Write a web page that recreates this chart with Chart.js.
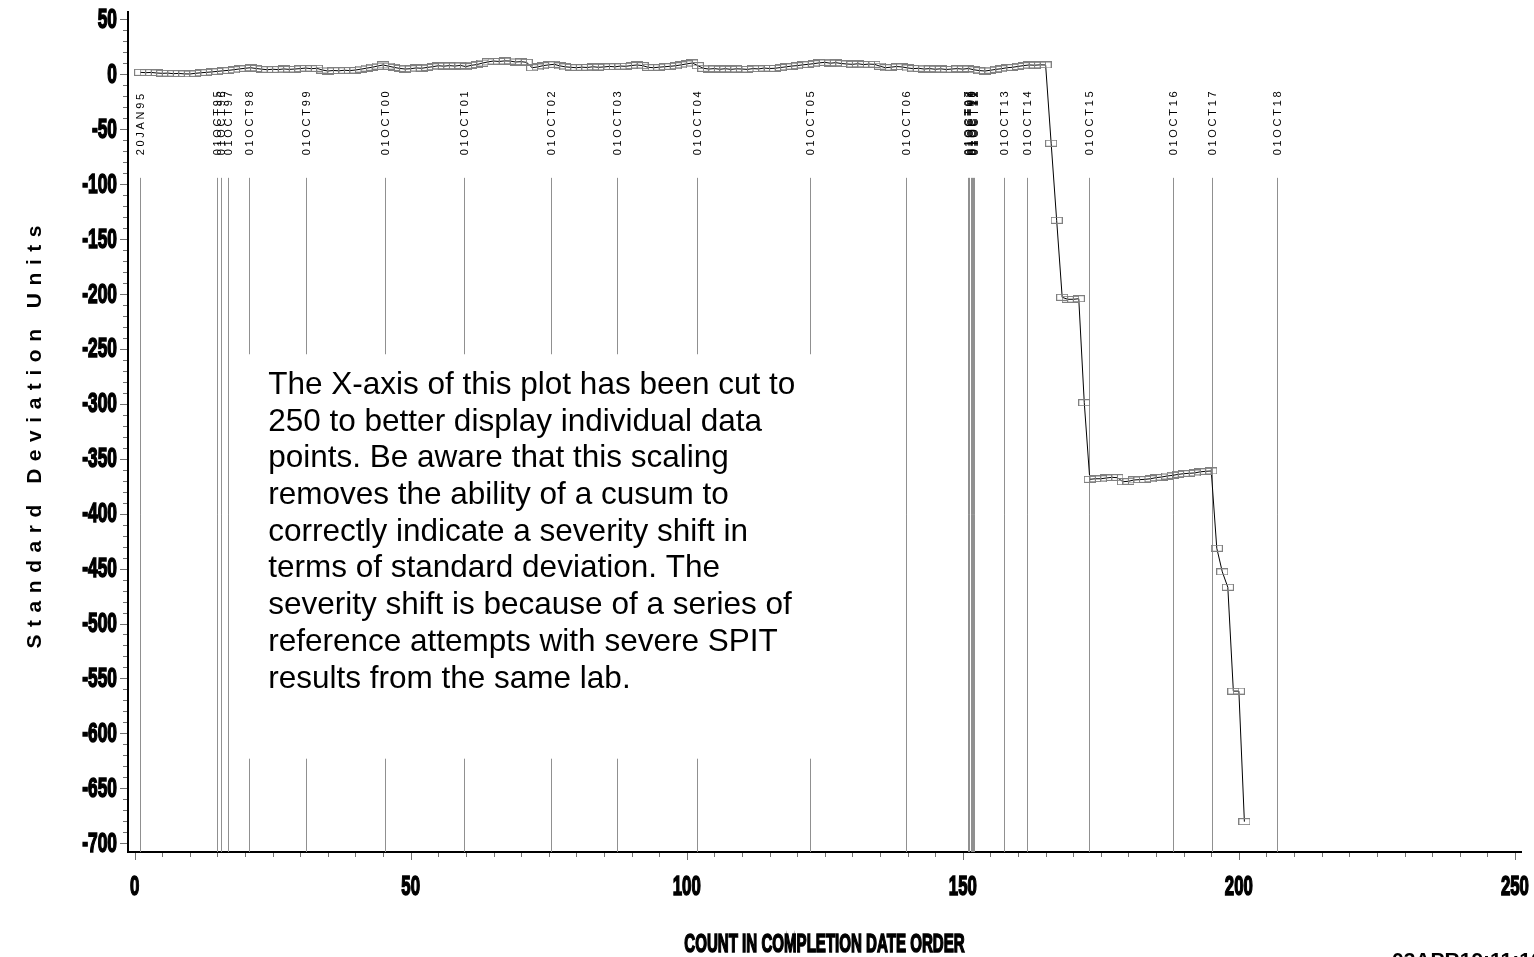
<!DOCTYPE html>
<html>
<head>
<meta charset="utf-8">
<script src="https://cdn.jsdelivr.net/npm/chart.js@4.4.1/dist/chart.umd.min.js"></script>
<style>
  html, body { margin: 0; padding: 0; background: #fff; }
  canvas { display: block; }
</style>
</head>
<body>
<canvas id="cusumChart" width="1534" height="957"></canvas>
<script>
// cusum in standard deviation units, one value per test (count 1, 2, 3 ...)
const cusum = [
    1.5, 1.2, 1.4, 0.9, 0.6, 0.8, 0.3, 0.5, 0.1, 0.0,
    0.6, 1.1, 1.5, 1.9, 2.4, 2.9, 3.3, 3.9, 4.6, 5.2,
    5.7, 5.0, 4.4, 3.9, 4.3, 4.0, 4.6, 4.2, 4.5, 4.9,
    5.4, 4.8, 5.2, 3.6, 2.7, 3.2, 2.9, 3.4, 3.1, 3.6,
    4.4, 5.3, 6.1, 7.2, 8.2, 7.1, 6.0, 5.1, 4.5, 4.8,
    5.5, 5.2, 6.0, 6.6, 7.5, 7.1, 7.6, 7.2, 7.8, 6.7,
    7.9, 8.6, 9.9, 11.0, 11.8, 11.4, 11.9, 11.8, 10.9, 11.2,
    10.6, 5.7, 6.4, 7.6, 8.3, 8.8, 7.4, 6.5, 6.1, 5.7,
    6.2, 5.9, 6.6, 6.1, 6.4, 6.9, 6.5, 7.2, 7.0, 7.7,
    8.2, 7.6, 6.1, 5.7, 6.2, 6.6, 7.0, 7.5, 8.3, 9.2,
    10.0, 7.6, 5.2, 4.5, 4.9, 4.3, 4.8, 4.2, 4.7, 4.5,
    4.2, 4.9, 4.6, 5.4, 5.0, 5.2, 5.9, 6.5, 7.2, 7.6,
    8.3, 8.8, 9.4, 10.1, 10.6, 9.8, 10.3, 9.5, 9.1, 8.8,
    9.3, 8.6, 9.0, 8.8, 7.1, 5.7, 6.2, 6.8, 6.4, 5.5,
    4.9, 5.2, 4.5, 4.9, 4.3, 4.7, 4.1, 4.5, 4.9, 4.4,
    5.0, 3.8, 3.1, 2.7, 3.4, 4.2, 4.8, 5.7, 6.1, 6.9,
    7.6, 8.2, 8.0, 8.3, 8.2, -63.0, -133.1, -203.2, -205.0, -205.0,
    -204.5, -299.1, -368.8, -368.3, -368.3, -367.6, -367.0, -367.3, -371.0, -370.6,
    -369.4, -369.1, -368.8, -368.3, -367.3, -366.7, -365.8, -365.2, -364.3, -363.7,
    -363.3, -363.0, -362.0, -361.5, -361.2, -431.5, -453.0, -467.0, -561.5, -561.5,
    -680.3
];

// reference lines: count at which each date starts, and its label
const refCounts = [1, 15, 15.6, 16.9, 20.7, 31, 45.3, 59.7, 75.4, 87.4, 101.9, 122.3, 139.7,
    151, 151.2, 151.4, 151.6, 151.8, 152, 157.5, 161.6, 172.9, 188.1, 195.2, 206.9];
const refLabels = ['20JAN95', '01OCT95', '01OCT96', '01OCT97', '01OCT98', '01OCT99', '01OCT00',
    '01OCT01', '01OCT02', '01OCT03', '01OCT04', '01OCT05', '01OCT06', '01OCT07', '01OCT08',
    '01OCT09', '01OCT10', '01OCT11', '01OCT12', '01OCT13', '01OCT14', '01OCT15', '01OCT16',
    '01OCT17', '01OCT18'];

const xTicks = [0, 50, 100, 150, 200, 250];
const yTicks = [50, 0, -50, -100, -150, -200, -250, -300, -350, -400, -450, -500, -550, -600, -650, -700];

const noteLines = [
    'The X-axis of this plot has been cut to',
    '250 to better display individual data',
    'points. Be aware that this scaling',
    'removes the ability of a cusum to',
    'correctly indicate a severity shift in',
    'terms of standard deviation. The',
    'severity shift is because of a series of',
    'reference attempts with severe SPIT',
    'results from the same lab.'
];

const FONT = "'Liberation Sans', Arial, sans-serif";

// little open rectangle used as the plot symbol
const marker = document.createElement('canvas');
marker.width = 12;
marker.height = 7;
(function () {
    let m = marker.getContext('2d');
    m.strokeStyle = '#808080';
    m.lineWidth = 1;
    m.strokeRect(0.5, 0.5, 11, 6);
})();

function spacedText(ctx, str, x, y, gap) {
    let cx = x;
    for (const ch of str) {
        ctx.fillText(ch, cx, y);
        cx += ctx.measureText(ch).width + gap;
    }
}

function spacedWidth(ctx, str, gap) {
    let w = 0;
    for (const ch of str) w += ctx.measureText(ch).width + gap;
    return w - gap;
}

// heavy condensed text, like the SAS/GRAPH axis font
function narrowText(ctx, str, x, y, align, sx) {
    ctx.save();
    ctx.translate(x, y);
    ctx.scale(sx, 1);
    ctx.textAlign = align;
    ctx.lineWidth = 1.6;
    ctx.strokeStyle = '#000';
    ctx.strokeText(str, 0, 0);
    ctx.fillText(str, 0, 0);
    ctx.restore();
}

const sasDecor = {
    id: 'sasDecor',
    beforeDatasetsDraw(chart) {
        const {ctx, chartArea: area, scales: {x, y}} = chart;
        ctx.save();

        // reference lines and their date labels
        const lineTop = y.getPixelForValue(-94.5);
        const labelStart = y.getPixelForValue(-74);
        refCounts.forEach((c, i) => {
            const px = Math.round(x.getPixelForValue(c)) + 0.5;
            ctx.strokeStyle = '#909090';
            ctx.lineWidth = 1;
            ctx.beginPath();
            ctx.moveTo(px, lineTop);
            ctx.lineTo(px, area.bottom);
            ctx.stroke();

            ctx.save();
            ctx.translate(px, labelStart);
            ctx.rotate(-Math.PI / 2);
            ctx.font = '11px ' + FONT;
            ctx.fillStyle = '#000';
            ctx.textBaseline = 'middle';
            ctx.textAlign = 'left';
            spacedText(ctx, refLabels[i], 0, 0, 2.7);
            ctx.restore();
        });

        // note box (white, covers the reference lines)
        const bx0 = x.getPixelForValue(19), bx1 = x.getPixelForValue(124);
        const by0 = y.getPixelForValue(-255), by1 = y.getPixelForValue(-623);
        ctx.fillStyle = '#fff';
        ctx.fillRect(bx0, by0, bx1 - bx0, by1 - by0);

        ctx.fillStyle = '#000';
        ctx.font = '31.5px ' + FONT;
        ctx.textAlign = 'left';
        ctx.textBaseline = 'middle';
        const tx = x.getPixelForValue(24.2);
        noteLines.forEach((line, i) => {
            ctx.fillText(line, tx, by0 + 31 + i * 36.7);
        });
        ctx.restore();
    },
    afterDraw(chart) {
        const {ctx, chartArea: area, scales: {x, y}} = chart;
        ctx.save();

        // tick marks
        ctx.strokeStyle = '#707070';
        ctx.lineWidth = 1;
        for (let v = 0; v <= 250; v += 5) {
            const px = Math.round(x.getPixelForValue(v)) + 0.5;
            const len = v % 50 === 0 ? 7 : 4;
            ctx.beginPath();
            ctx.moveTo(px, area.bottom + 1);
            ctx.lineTo(px, area.bottom + 1 + len);
            ctx.stroke();
        }
        for (let v = -700; v <= 50; v += 10) {
            const py = Math.round(y.getPixelForValue(v)) + 0.5;
            const len = v % 50 === 0 ? 7 : 4;
            ctx.beginPath();
            ctx.moveTo(area.left - 1 - len, py);
            ctx.lineTo(area.left - 1, py);
            ctx.stroke();
        }

        // tick labels, bold and condensed
        ctx.fillStyle = '#000';
        ctx.font = 'bold 28px ' + FONT;
        ctx.textBaseline = 'middle';
        xTicks.forEach(v => narrowText(ctx, String(v), x.getPixelForValue(v), area.bottom + 35, 'center', 0.6));
        yTicks.forEach(v => narrowText(ctx, String(v), area.left - 11, y.getPixelForValue(v) + 1, 'right', 0.62));

        // x title
        ctx.font = 'bold 26px ' + FONT;
        narrowText(ctx, 'COUNT IN COMPLETION DATE ORDER', (area.left + area.right) / 2, 945, 'center', 0.58);

        // y title, letter spaced
        ctx.save();
        ctx.translate(35, 437);
        ctx.rotate(-Math.PI / 2);
        ctx.font = 'bold 21px ' + FONT;
        const title = 'Standard Deviation Units';
        let plain = 0;
        for (const ch of title) plain += ctx.measureText(ch).width;
        const gap = (423 - plain) / (title.length - 1);
        const tw = spacedWidth(ctx, title, gap);
        ctx.textAlign = 'left';
        ctx.textBaseline = 'middle';
        spacedText(ctx, title, -tw / 2, 0, gap);
        ctx.restore();

        // run stamp, bottom right
        ctx.font = 'bold 21px ' + FONT;
        ctx.textAlign = 'left';
        ctx.textBaseline = 'alphabetic';
        ctx.fillText('03APR19:11:10', 1392, 967);

        ctx.restore();
    }
};

const chart = new Chart(document.getElementById('cusumChart'), {
    type: 'line',
    data: {
        datasets: [{
            data: cusum.map((v, i) => ({x: i + 1, y: v})),
            borderColor: '#000',
            borderWidth: 1,
            pointStyle: marker,
            pointRadius: 5,
            tension: 0,
            fill: false
        }]
    },
    options: {
        responsive: false,
        animation: false,
        events: [],
        devicePixelRatio: 1,
        layout: {padding: {top: 12, right: 13, left: 0, bottom: 0}},
        plugins: {legend: {display: false}, tooltip: {enabled: false}},
        scales: {
            x: {
                type: 'linear',
                min: -1.2,
                max: 251.1,
                grid: {display: false, drawTicks: false},
                border: {display: true, color: '#000', width: 2},
                ticks: {display: false},
                afterFit(s) { s.height = 105; }
            },
            y: {
                min: -707.9,
                max: 56.4,
                grid: {display: false, drawTicks: false},
                border: {display: true, color: '#000', width: 2},
                ticks: {display: false},
                afterFit(s) { s.width = 128; }
            }
        }
    },
    plugins: [sasDecor]
});
</script>
</body>
</html>
